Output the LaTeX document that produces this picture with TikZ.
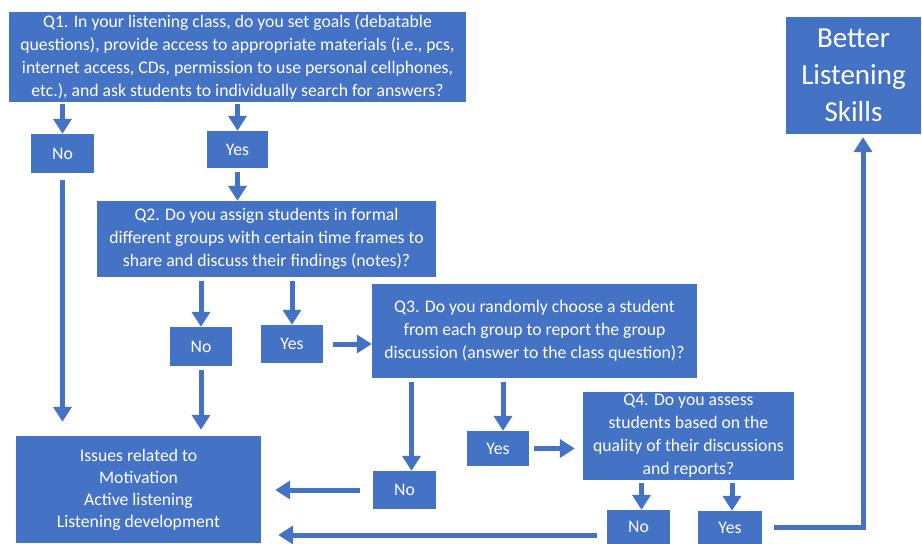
\documentclass[tikz,border=0pt]{standalone}
\usepackage{fontspec}
\setmainfont{Carlito}
\usetikzlibrary{arrows.meta,calc}
\definecolor{boxblue}{HTML}{4472C4}
\begin{document}
\begin{tikzpicture}[x=1pt,y=-1pt,
  box/.style={fill=boxblue,text=white,align=center,inner sep=0pt,font=\fontsize{17.7}{23}\selectfont},
  flow/.style={draw=boxblue,line width=5pt,-{Triangle[width=18pt,length=15pt]}},
]
\useasboundingbox (0,0) rectangle (922,544);
\fill[white] (0,0) rectangle (922,544);
\node[box,minimum width=457pt,minimum height=90pt] (q1) at (237.5,57) {Q1. In your listening class, do you set goals (debatable\\questions), provide access to appropriate materials (i.e., pcs,\\internet access, CDs, permission to use personal cellphones,\\etc.), and ask students to individually search for answers?};
\node[box,minimum width=63pt,minimum height=39pt] (no1) at (62.5,153.5) {No};
\node[box,minimum width=61pt,minimum height=37pt] (yes1) at (237.5,149.5) {Yes};
\node[box,minimum width=339pt,minimum height=76pt] (q2) at (266.5,239) {Q2. Do you assign students in formal\\different groups with certain time frames to\\share and discuss their findings (notes)?};
\node[box,minimum width=62pt,minimum height=39pt] (no2) at (201,346.5) {No};
\node[box,minimum width=62pt,minimum height=38pt] (yes2) at (292,344) {Yes};
\node[box,minimum width=325pt,minimum height=94pt] (q3) at (534.5,331) {Q3. Do you randomly choose a student\\from each group to report the group\\discussion (answer to the class question)?};
\node[box,minimum width=63pt,minimum height=38pt] (no3) at (404.5,490) {No};
\node[box,minimum width=62pt,minimum height=35pt] (yes3) at (498,448.5) {Yes};
\node[box,minimum width=211pt,minimum height=88pt] (q4) at (688.5,436) {Q4. Do you assess\\students based on the\\quality of their discussions\\and reports?};
\node[box,minimum width=63pt,minimum height=34pt] (no4) at (638.5,527) {No};
\node[box,minimum width=64pt,minimum height=33pt] (yes4) at (730,527.5) {Yes};
\node[box,minimum width=135pt,minimum height=117pt,font=\fontsize{29}{37}\selectfont] (better) at (853.5,75.5) {Better\\Listening\\Skills};
\node[box,minimum width=245pt,minimum height=107pt,font=\fontsize{17.7}{22}\selectfont] (issues) at (138.5,489.5) {Issues related to\\Motivation\\Active listening\\Listening development};
% helper coordinates
\coordinate (no4w) at ($(no4.west)+(0,8)$);
\coordinate (q3no) at ($(q3.south -| no3.north)+(7,0)$);
\coordinate (no3n) at ($(no3.north)+(7,0)$);
\coordinate (q3yes) at ($(q3.south -| yes3.north)+(5,0)$);
\coordinate (yes3n) at ($(yes3.north)+(5,0)$);
\coordinate (q4no) at ($(q4.south -| no4.north)+(3,0)$);
\coordinate (no4n) at ($(no4.north)+(3,0)$);
\coordinate (q4yes) at ($(q4.south -| yes4.north)+(2,0)$);
\coordinate (yes4n) at ($(yes4.north)+(2,0)$);
\coordinate (bets) at ($(better.south)+(9.5,0)$);
% connectors
\draw[flow,shorten <=2pt] (q1.south -| no1.north) -- (no1.north);
\draw[flow,shorten <=2pt] (q1.south -| yes1.north) -- (yes1.north);
\draw[flow,shorten <=4pt] (yes1.south) -- (yes1.south |- q2.north);
\draw[flow,shorten <=4pt] (q2.south -| no2.north) -- (no2.north);
\draw[flow,shorten <=4pt] (q2.south -| yes2.north) -- (yes2.north);
\draw[flow,shorten <=10pt] (yes2.east) -- (yes2.east -| q3.west);
\draw[flow,shorten <=4pt] (q3no) -- (no3n);
\draw[flow,shorten <=4pt] (q3yes) -- (yes3n);
\draw[flow,shorten <=5pt,shorten >=8pt] (yes3.east) -- (yes3.east -| q4.west);
\draw[flow,shorten <=3pt] (q4no) -- (no4n);
\draw[flow,shorten <=3pt] (q4yes) -- (yes4n);
\draw[flow,shorten <=7pt,shorten >=14pt] (no1.south) -- (no1.south |- issues.north);
\draw[flow,shorten <=4pt,shorten >=6pt] (no2.south) -- (no2.south |- issues.north);
\draw[flow,shorten <=13pt,shorten >=14pt] (no3.west) -- (no3.west -| issues.east);
\draw[flow,shorten <=10pt,shorten >=17pt] (no4w) -- (no4w -| issues.east);
\draw[flow,shorten <=12pt,shorten >=3pt] (yes4.east) -| (bets);
\end{tikzpicture}
\end{document}
